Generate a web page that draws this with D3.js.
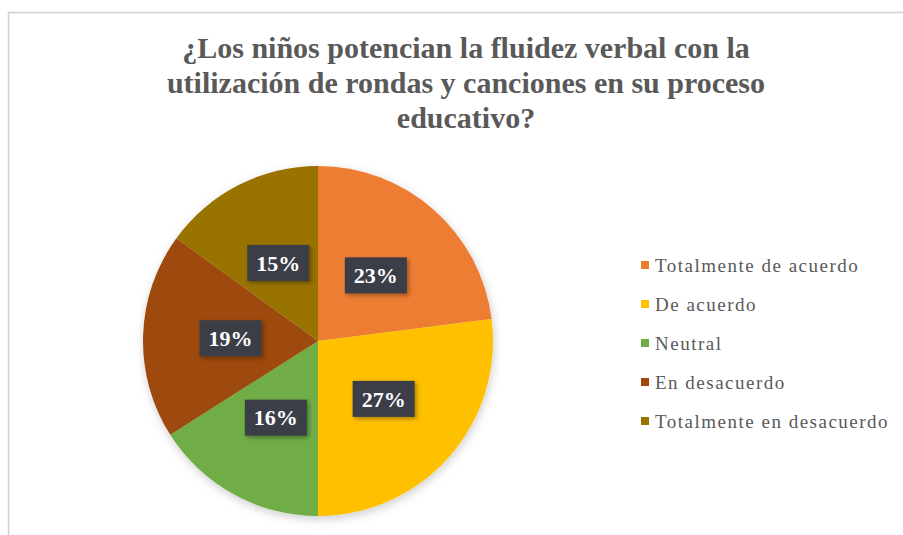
<!DOCTYPE html>
<html>
<head>
<meta charset="utf-8">
<script src="https://cdn.jsdelivr.net/npm/d3@7"></script>
<style>
  body { margin: 0; background: #fff; }
  svg { display: block; }
  text { font-family: "Liberation Serif", "Times New Roman", "DejaVu Serif", serif; }
</style>
</head>
<body>
<svg></svg>
<script>
let width = 903;
let height = 535;

let categories = ['Totalmente de acuerdo', 'De acuerdo', 'Neutral', 'En desacuerdo', 'Totalmente en desacuerdo'];
let percents = [23, 27, 16, 19, 15];
let colors = ['#ED7D31', '#FFC000', '#70AD47', '#9E480E', '#997300'];
let titleLines = ['¿Los niños potencian la fluidez verbal con la',
  'utilización de rondas y canciones en su proceso',
  'educativo?'];

let data = categories.map((c, i) => ({name: c, value: percents[i]}));

let colorScale = d3.scaleOrdinal()
  .domain(categories)
  .range(colors);

let svg = d3.select('svg')
  .attr('width', width)
  .attr('height', height);

let defs = svg.append('defs');
let shadow = defs.append('filter')
  .attr('id', 'shadow')
  .attr('x', '-20%').attr('y', '-20%')
  .attr('width', '140%').attr('height', '140%');
shadow.append('feDropShadow')
  .attr('dx', 1).attr('dy', 3)
  .attr('stdDeviation', 5)
  .attr('flood-color', '#000')
  .attr('flood-opacity', 0.2);

let boxShadow = defs.append('filter')
  .attr('id', 'boxshadow')
  .attr('x', '-30%').attr('y', '-30%')
  .attr('width', '160%').attr('height', '160%');
boxShadow.append('feDropShadow')
  .attr('dx', 2).attr('dy', 2)
  .attr('stdDeviation', 2)
  .attr('flood-color', '#000')
  .attr('flood-opacity', 0.35);

// chart border (only top and left visible)
svg.append('path')
  .attr('d', `M8.5,${height} V12.5 H${width}`)
  .attr('fill', 'none')
  .attr('stroke', '#d0d0d0')
  .attr('stroke-width', 1.5);

// title
svg.append('g')
  .selectAll('text')
  .data(titleLines)
  .enter()
  .append('text')
    .attr('x', 466)
    .attr('y', (d, i) => 58 + i * 35)
    .attr('text-anchor', 'middle')
    .attr('font-weight', 'bold')
    .attr('font-size', 30)
    .attr('fill', '#595959')
    .text(d => d);

// pie
let cx = 318, cy = 341, radius = 175;

let pie = d3.pie()
  .value(d => d.value)
  .sort(null);

let arcs = pie(data);

let drawArc = d3.arc()
  .outerRadius(radius)
  .innerRadius(0);

let chart = svg.append('g')
  .attr('transform', `translate(${cx}, ${cy})`);

chart.append('g')
  .attr('filter', 'url(#shadow)')
  .selectAll('path')
  .data(arcs)
  .enter()
  .append('path')
    .attr('fill', d => colorScale(d.data.name))
    .attr('stroke', 'none')
    .attr('d', drawArc);

// data labels sit at the arc centroid (half the radius)
let labels = chart.append('g')
  .selectAll('g')
  .data(arcs)
  .enter()
  .append('g')
    .attr('transform', d => `translate(${drawArc.centroid(d)})`);

labels.append('rect')
  .attr('x', -31)
  .attr('y', -18)
  .attr('width', 62)
  .attr('height', 36)
  .attr('fill', '#3a3d46')
  .attr('filter', 'url(#boxshadow)');

labels.append('text')
  .attr('text-anchor', 'middle')
  .attr('dy', '0.35em')
  .attr('font-weight', 'bold')
  .attr('font-size', 22)
  .attr('fill', '#ffffff')
  .text(d => d.data.value + '%');

// legend
let legend = svg.append('g')
  .selectAll('g')
  .data(categories)
  .enter()
  .append('g')
    .attr('transform', (d, i) => `translate(641, ${265 + i * 39})`);

legend.append('rect')
  .attr('x', 0)
  .attr('y', -4)
  .attr('width', 8)
  .attr('height', 8)
  .attr('fill', d => colorScale(d));

legend.append('text')
  .attr('x', 14)
  .attr('dy', '0.35em')
  .attr('font-size', 19)
  .attr('letter-spacing', 1.5)
  .attr('fill', '#595959')
  .text(d => d);
</script>
</body>
</html>
